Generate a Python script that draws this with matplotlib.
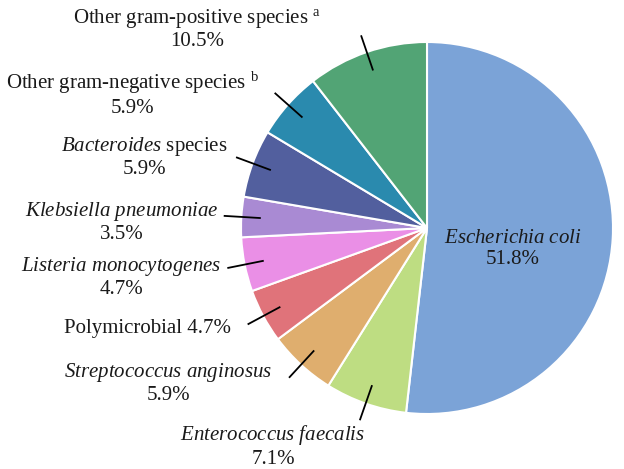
import numpy as np
import matplotlib
matplotlib.use("Agg")
import matplotlib.pyplot as plt

# pie data, clockwise from 12 o'clock
names = [r"$\it{Escherichia\ coli}$",
         r"$\it{Enterococcus\ faecalis}$",
         r"$\it{Streptococcus\ anginosus}$",
         "Polymicrobial",
         r"$\it{Listeria\ monocytogenes}$",
         r"$\it{Klebsiella\ pneumoniae}$",
         r"$\it{Bacteroides}$ species",
         r"Other gram-negative species $^{\mathrm{b}}$",
         r"Other gram-positive species $^{\mathrm{a}}$"]
shares = [51.8, 7.1, 5.9, 4.7, 4.7, 3.5, 5.9, 5.9, 10.5]
colors = ['#7ba3d7', '#bedd82', '#dfae6e', '#e0737a', '#ea8fe6',
          '#a98ad3', '#525f9e', '#2a8aae', '#52a475']

# label block centres in pixels (y measured from the top)
label_xy = [(513, 249), (273, 446), (168, 383), (147, 328), (121, 277),
            (122, 222), (144, 157), (132, 94), (197, 29)]
one_line = [False, False, False, True, False, False, False, False, False]
has_leader = [False, True, True, True, True, True, True, True, True]

plt.rcParams['font.family'] = ['Liberation Serif', 'DejaVu Serif']
plt.rcParams['mathtext.fontset'] = 'custom'
plt.rcParams['mathtext.rm'] = 'Liberation Serif'
plt.rcParams['mathtext.it'] = 'Liberation Serif:italic'

W, H = 624, 469
cx, cy, r = 427, H - 228, 186

fig = plt.figure(figsize=(W / 100, H / 100), dpi=100)
ax = fig.add_axes([0, 0, 1, 1])
wedges, _ = ax.pie(shares, colors=colors, startangle=90, counterclock=False,
                   center=(cx, cy), radius=r,
                   wedgeprops=dict(edgecolor='white', linewidth=1.5))
ax.set_xlim(0, W)
ax.set_ylim(0, H)
ax.set_aspect('equal')
ax.axis('off')

for w, name, share, (lx, ly), single, lead in zip(wedges, names, shares,
                                                  label_xy, one_line, has_leader):
    if single:
        txt = f"{name} {share}%"
    else:
        txt = f"{name}\n{share}%"
    ax.text(lx, H - ly, txt, ha='center', va='center', fontsize=15,
            color='#1a1a1a', linespacing=1.2)
    if lead:
        ang = np.deg2rad((w.theta1 + w.theta2) / 2)
        ax.plot([cx + 0.9 * r * np.cos(ang), cx + 1.09 * r * np.cos(ang)],
                [cy + 0.9 * r * np.sin(ang), cy + 1.09 * r * np.sin(ang)],
                color='black', linewidth=1.3)

fig.savefig("out.png", dpi=100)
